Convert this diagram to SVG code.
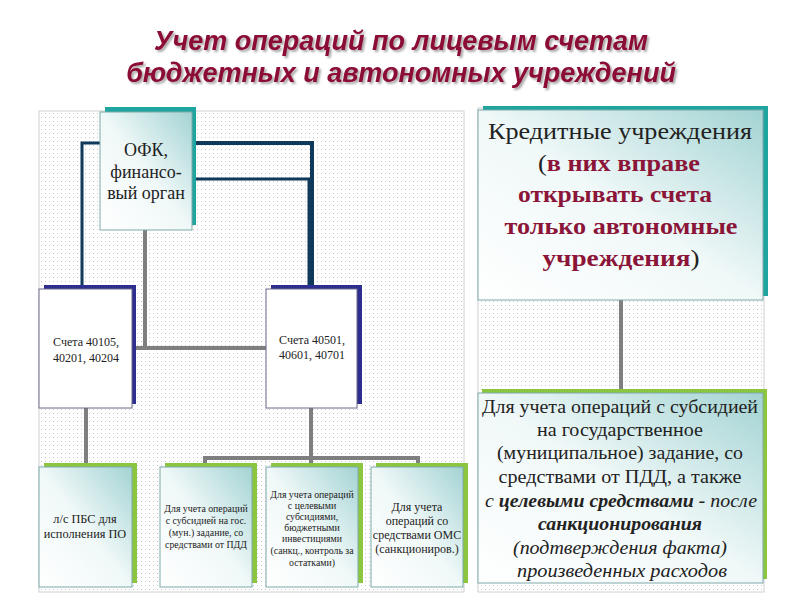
<svg xmlns="http://www.w3.org/2000/svg" width="800" height="600" viewBox="0 0 800 600">
<defs>
<pattern id="dots" width="4" height="4" patternUnits="userSpaceOnUse">
<rect width="4" height="4" fill="#ffffff"/>
<rect x="1" y="1" width="1" height="1" fill="#c8c8c8"/>
</pattern>
<linearGradient id="teal" x1="0" y1="1" x2="1" y2="0">
<stop offset="0" stop-color="#ffffff"/>
<stop offset="0.5" stop-color="#f0f8f8"/>
<stop offset="1" stop-color="#a3d3d3"/>
</linearGradient>
<filter id="tsh" x="-5%" y="-20%" width="110%" height="140%">
<feGaussianBlur in="SourceAlpha" stdDeviation="1"/>
<feOffset dx="1.5" dy="1.5"/>
<feComponentTransfer><feFuncA type="linear" slope="0.35"/></feComponentTransfer>
<feMerge><feMergeNode/><feMergeNode in="SourceGraphic"/></feMerge>
</filter>
</defs>
<style>
.panel{fill:url(#dots);stroke:#d0d0d0;stroke-width:1}
.box{fill:url(#teal);stroke:#7fa9a9;stroke-width:1}
.wbox{fill:#ffffff;stroke:#6b6b8a;stroke-width:1}
.shT{fill:#1fa5a0}
.shB{fill:#2e2e8f}
.shG{fill:#8cc63f}
.gray{fill:none;stroke:#7f7f7f;stroke-width:4}
.navy{fill:none;stroke:#0f3a5c}
.s{font-family:'Liberation Serif','DejaVu Serif',serif;fill:#222;text-anchor:middle}
.title{font-family:'Liberation Sans','DejaVu Sans',sans-serif;font-weight:bold;font-style:italic;font-size:27px;fill:#8b0f35;text-anchor:middle}
.red{fill:#8b1538;font-weight:bold}
</style>

<rect width="800" height="600" fill="#ffffff"/>

<g id="title" filter="url(#tsh)">
<text class="title" x="401" y="50">Учет операций по лицевым счетам</text>
<text class="title" x="401" y="82">бюджетных и автономных учреждений</text>
</g>

<rect class="panel" x="39" y="111" width="425" height="481"/>
<rect class="panel" x="478" y="108" width="286" height="484"/>

<g id="connectors">
<path class="navy" stroke-width="3" d="M100,143 H82 V290"/>
<path class="navy" stroke-width="4" d="M192,143 H312 V290"/>
<path class="navy" stroke-width="3" d="M192,179 H309 V290"/>
<path class="gray" d="M145,230 V348"/>
<path class="gray" d="M132,348 H266"/>
<path class="gray" d="M86,408 V464"/>
<path class="gray" d="M311,408 V464"/>
<path class="gray" d="M205,464 V458 H418 V464"/>
<path class="gray" d="M621,300 V392"/>
</g>

<g id="ofk">
<rect class="shT" x="105" y="107" width="91" height="118"/>
<rect class="box" x="100" y="112" width="92" height="118"/>
<text class="s" font-size="18" x="146" y="156">ОФК,</text>
<text class="s" font-size="18" x="146" y="178">финансо-</text>
<text class="s" font-size="18" x="146" y="199">вый орган</text>
</g>

<g id="acc1">
<rect class="shB" x="44" y="285" width="92" height="119"/>
<rect class="wbox" x="39" y="289" width="93" height="119"/>
<text class="s" font-size="12" x="86" y="346">Счета 40105,</text>
<text class="s" font-size="12" x="86" y="362">40201, 40204</text>
</g>

<g id="acc2">
<rect class="shB" x="271" y="285" width="91" height="119"/>
<rect class="wbox" x="266" y="289" width="91" height="119"/>
<text class="s" font-size="12" x="312" y="344">Счета 40501,</text>
<text class="s" font-size="12" x="312" y="359">40601, 40701</text>
</g>

<g id="pbs">
<rect class="shG" x="44" y="463" width="93" height="120"/>
<rect class="box" x="39" y="467" width="93" height="120"/>
<text class="s" font-size="12.3" x="85" y="523">л/с ПБС для</text>
<text class="s" font-size="12.3" x="85" y="538">исполнения ПО</text>
</g>

<g id="sub1">
<rect class="shG" x="165" y="463" width="92" height="120"/>
<rect class="box" x="160" y="467" width="92" height="120"/>
<text class="s" font-size="9.8" x="206" y="512">Для учета операций</text>
<text class="s" font-size="9.8" x="206" y="524">с субсидией  на гос.</text>
<text class="s" font-size="9.8" x="206" y="536">(мун.) задание,  со</text>
<text class="s" font-size="9.8" x="206" y="548">средствами от ПДД</text>
</g>

<g id="sub2">
<rect class="shG" x="271" y="463" width="92" height="120"/>
<rect class="box" x="266" y="467" width="92" height="120"/>
<text class="s" font-size="9.8" x="312" y="498">Для учета операций</text>
<text class="s" font-size="9.8" x="312" y="509">с целевыми</text>
<text class="s" font-size="9.8" x="312" y="520">субсидиями,</text>
<text class="s" font-size="9.8" x="312" y="531">бюджетными</text>
<text class="s" font-size="9.8" x="312" y="542">инвестициями</text>
<text class="s" font-size="9.8" x="312" y="554">(санкц., контроль за</text>
<text class="s" font-size="9.8" x="312" y="566">остатками)</text>
</g>

<g id="oms">
<rect class="shG" x="376" y="463" width="92" height="120"/>
<rect class="box" x="371" y="467" width="92" height="120"/>
<text class="s" font-size="12" x="417" y="511">Для учета</text>
<text class="s" font-size="12" x="417" y="525">операций со</text>
<text class="s" font-size="12" x="417" y="539">средствами ОМС</text>
<text class="s" font-size="12" x="417" y="553">(санкциониров.)</text>
</g>

<g id="credit">
<rect class="shT" x="483" y="106" width="285" height="190"/>
<rect class="box" x="478" y="110" width="285" height="190"/>
<text class="s" font-size="22.5" x="620" y="139" textLength="264" lengthAdjust="spacingAndGlyphs">Кредитные учреждения</text>
<text class="s" font-size="23.5" x="619" y="171" textLength="162" lengthAdjust="spacingAndGlyphs">(<tspan class="red">в них вправе</tspan></text>
<text class="s red" font-size="23.5" x="615" y="202" textLength="194" lengthAdjust="spacingAndGlyphs">открывать счета</text>
<text class="s red" font-size="23.5" x="621" y="234" textLength="233" lengthAdjust="spacingAndGlyphs">только автономные</text>
<text class="s" font-size="23.5" x="621" y="266" textLength="157" lengthAdjust="spacingAndGlyphs"><tspan class="red">учреждения</tspan>)</text>
</g>

<g id="autonomous">
<rect class="shG" x="482" y="389" width="285" height="190"/>
<rect class="box" x="478" y="393" width="285" height="190"/>
<text class="s" font-size="18.5" x="620" y="413" textLength="276" lengthAdjust="spacingAndGlyphs">Для учета операций с субсидией</text>
<text class="s" font-size="18.5" x="620" y="436" textLength="166" lengthAdjust="spacingAndGlyphs">на государственное</text>
<text class="s" font-size="18.5" x="620" y="459" textLength="246" lengthAdjust="spacingAndGlyphs">(муниципальное) задание, со</text>
<text class="s" font-size="18.5" x="620" y="483" textLength="243" lengthAdjust="spacingAndGlyphs">средствами от ПДД, а также</text>
<text class="s" font-size="18.5" font-style="italic" x="621" y="507" textLength="272" lengthAdjust="spacingAndGlyphs">с <tspan font-weight="bold">целевыми средствами -</tspan> после</text>
<text class="s" font-size="18.5" font-style="italic" font-weight="bold" x="620" y="530" textLength="164" lengthAdjust="spacingAndGlyphs">санкционирования</text>
<text class="s" font-size="18.5" font-style="italic" x="620" y="554" textLength="214" lengthAdjust="spacingAndGlyphs">(подтверждения факта)</text>
<text class="s" font-size="18.5" font-style="italic" x="622" y="577" textLength="210" lengthAdjust="spacingAndGlyphs">произведенных расходов</text>
</g>
</svg>
